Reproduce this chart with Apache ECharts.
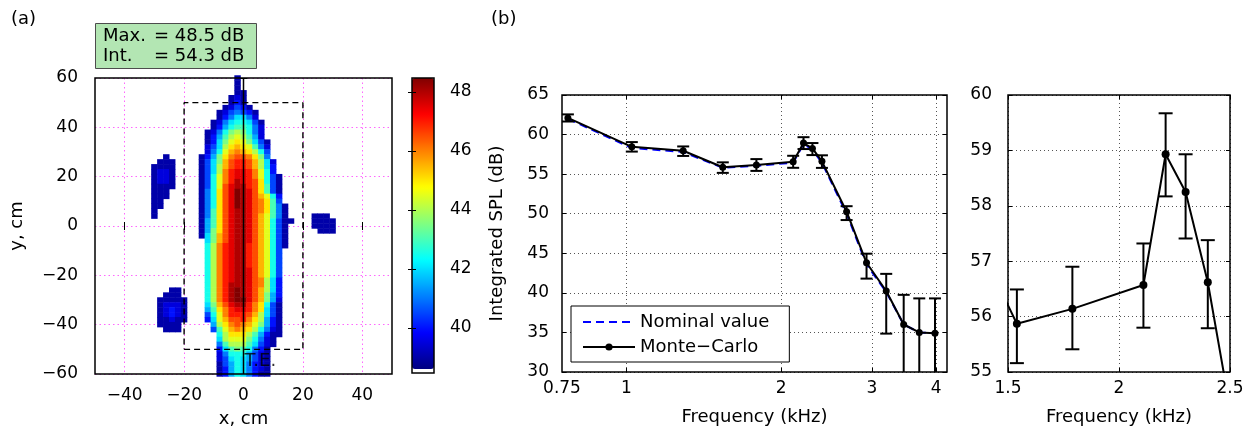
<!DOCTYPE html>
<html><head><meta charset="utf-8">
<script src="https://cdn.jsdelivr.net/npm/echarts@6/dist/echarts.min.js"></script>
<style>html,body{margin:0;padding:0;background:#fff}#c{width:1260px;height:440px}</style>
</head><body><div id="c"></div>
<script>
// ---------------- data ----------------
// panel (b): frequency sweep
const freqKHz    = [0.77, 1.025, 1.29, 1.54, 1.79, 2.11, 2.21, 2.30, 2.40, 2.68, 2.93, 3.20, 3.46, 3.71, 3.98];
const mcSPL      = [62.1, 58.45, 57.95, 55.87, 56.14, 56.57, 58.93, 58.25, 56.62, 50.25, 43.8, 40.23, 36.0, 35.0, 34.9];
const mcLow      = [61.65, 57.85, 57.3, 55.16, 55.41, 55.8, 58.17, 57.41, 55.79, 49.2, 41.8, 34.85, 29, 29, 29];
const mcHigh     = [62.55, 59.05, 58.5, 56.49, 56.9, 57.32, 59.67, 58.93, 57.38, 50.95, 44.95, 42.4, 39.75, 39.3, 39.3];
const nominalSPL = [62.0, 58.3, 57.8, 55.8, 56.05, 56.45, 58.8, 58.1, 56.45, 50.0, 43.6, 40.1, 36.0, 35.0, 34.9];
const mainXTicks = [0.75, 1, 2, 3, 4];
const mainXGrid  = [1, 2, 3, 4];
// panel (a): map ticks
const mapXTicks  = [-40, -20, 0, 20, 40];
const cbarTicks  = [40, 42, 44, 46, 48];
// panel (a): SPL map, 2 cm cells. Rows y = 60 ... -60 (step -2), columns x = -32 ... 32 (step 2).
// level char k -> 38.5 + 0.5*k dB, '.' = below threshold
const levelChars = '0123456789abcdefghijk';
const mapRows = [
 ".........|......1.........|........", // 60
 ".........|......1.........|........", // 58
 ".........|......1.........|........", // 56
 ".........|......11........|........", // 54
 ".........|.....121........|........", // 52
 ".........|.....131........|........", // 50
 ".........|....12431.......|........", // 48
 ".........|...1245431......|........", // 46
 ".........|...1357752......|........", // 44
 ".........|..125788741.....|........", // 42
 ".........|..136899852.....|........", // 40
 ".........|.1258aba852.....|........", // 38
 ".........|.1369bcb962.....|........", // 36
 ".........|.137acdca741....|........", // 34
 ".........|.247bdedc952....|........", // 32
 ".........|.258cefedb84....|........", // 30
 "...1.....|136adfggfda5....|........", // 28
 "..111....|147aeghhgeb72...|........", // 26
 ".1111....|147beghhgeb73...|........", // 24
 ".1221....|147bfhiihfc83...|........", // 22
 ".1221....|148cfhiihfc841..|........", // 20
 ".1221....|148cfhjihgd841..|........", // 18
 ".1111....|148cgijjhgd941..|........", // 16
 ".111.....|158dgikjigd941..|........", // 14
 ".111.....|158dgikjigec83..|........", // 12
 ".11......|158dgikjigfd94..|........", // 10
 ".11......|158dgikjigfd951.|........", // 8
 ".1.......|159dgijjigfd951.|........", // 6
 ".1.......|159dgijjigec951.|...111..", // 4
 ".........|169dgijjigec8411|...1111.", // 2
 ".........|169dgijjigec841.|...1111.", // 0
 ".........|16adgijjigec841.|....111.", // -2
 ".........|17aegijjigec841.|........", // -4
 ".........|.7aegijjigec841.|........", // -6
 ".........|.8bfhijjhgec841.|........", // -8
 ".........|.8bfhijjhgec84..|........", // -10
 ".........|.8bfhijjhgec84..|........", // -12
 ".........|.8bfhijjhgec84..|........", // -14
 ".........|.8bfhijjhgec84..|........", // -16
 ".........|.8bfhijjigec84..|........", // -18
 ".........|.8bfhijjigec84..|........", // -20
 ".........|.8bfhijjigfb73..|........", // -22
 ".........|.8bfhjjjigfb73..|........", // -24
 "....11...|.8bfhjkjigeb73..|........", // -26
 "...111...|.8bfhjkjigea63..|........", // -28
 "..11111..|.8bfhjkkigea62..|........", // -30
 "..12221..|.7aegijjhfd841..|........", // -32
 "..12321..|.69dfhiihfd741..|........", // -34
 "..12321..|.48cfhhhgeb741..|........", // -36
 "..11211..|.37cegghfdb631..|........", // -38
 "..1111...|..6bdfgfeca631..|........", // -40
 "...111...|..49cefedb8521..|........", // -42
 ".........|...8bdddb96311..|........", // -44
 ".........|...7bccca8521...|........", // -46
 ".........|...59bbb97421...|........", // -48
 ".........|...379a98531....|........", // -50
 ".........|...258886421....|........", // -52
 ".........|...247876421....|........", // -54
 ".........|...146875321....|........", // -56
 ".........|...136875321....|........", // -58
 ".........|...136875311....|........"  // -60
];
const mapRowTop = 60, mapColLeft = -32, mapCell = 2;
const teBox   = [[-20,-50],[20,-50],[20,50],[-20,50],[-20,-50]];
const teLine  = [[0,-60],[0,60]];
const teLabel = [0,-55];

// ---------------- build ----------------
const FONT = 'DejaVu Sans';
const T = (o) => Object.assign({fontFamily: FONT, fontSize: 17, color: '#000'}, o || {});
const N = {fontFamily: FONT, fontSize: 18, color: '#000', fontWeight: 'normal'};
const minus = v => (v < 0 ? '\u2212' + Math.abs(v) : String(v));

const heatX = [], heatY = [];
for (let x = -50; x <= 50; x += mapCell) heatX.push(String(x));
for (let y = -60; y <= 60; y += mapCell) heatY.push(String(y));
const heatData = [];
mapRows.forEach((row, k) => {
  const s = row.replace(/\|/g, '');
  const yv = mapRowTop - mapCell * k;
  for (let i = 0; i < s.length; i++) {
    const idx = levelChars.indexOf(s[i]);
    if (idx < 0) continue;
    const xv = mapColLeft + mapCell * i;
    heatData.push([(xv + 50) / mapCell, (yv + 60) / mapCell, 38.5 + 0.5 * idx]);
  }
});

const pts = freqKHz.map((f, i) => [f, mcSPL[i]]);
const nomPts = freqKHz.map((f, i) => [f, nominalSPL[i]]);
const errPts = freqKHz.map((f, i) => [f, mcLow[i], mcHigh[i]]);

function errorBar(capHalf) {
  return function (params, api) {
    const cs = params.coordSys;
    const pLo = api.coord([api.value(0), api.value(1)]);
    const pHi = api.coord([api.value(0), api.value(2)]);
    const x = pHi[0];
    if (x < cs.x - 0.5 || x > cs.x + cs.width + 0.5) return null;
    const top = cs.y, bot = cs.y + cs.height;
    const y1 = Math.max(top, pHi[1]), y2 = Math.min(bot, pLo[1]);
    const st = {stroke: '#000', lineWidth: 2};
    const ch = [{type: 'line', shape: {x1: x, y1: y1, x2: x, y2: y2}, style: st}];
    if (pHi[1] >= top) ch.push({type: 'line', shape: {x1: x - capHalf, y1: pHi[1], x2: x + capHalf, y2: pHi[1]}, style: st});
    if (pLo[1] <= bot) ch.push({type: 'line', shape: {x1: x - capHalf, y1: pLo[1], x2: x + capHalf, y2: pLo[1]}, style: st});
    return {type: 'group', children: ch};
  };
}

const tickOnly = (extra) => Object.assign({
  axisLine: {show: false}, axisLabel: {show: false}, splitLine: {show: false},
  axisTick: {show: true, inside: true, length: 4, lineStyle: {color: '#000'}}
}, extra);

const jet = ['#000080', '#0000ff', '#0080ff', '#00ffff', '#80ff80', '#ffff00', '#ff8000', '#ff0000', '#800000'];
const dotted = (c) => ({show: true, lineStyle: {color: c, width: 1, type: [1, 3]}});
const magenta = {show: true, lineStyle: {color: '#ff66ff', width: 1, type: [1.5, 3]}};

const option = {
  animation: false,
  backgroundColor: '#fff',
  title: [
    {text: '(a)', left: 6, top: 5, textStyle: N},
    {text: '(b)', left: 486, top: 5, textStyle: N},
    {text: '{l|Max.}{r|= 48.5 dB}\n{l|Int.}{r|= 54.3 dB}', left: 95, top: 22,
     backgroundColor: '#b3e6b3', borderColor: '#4d4d4d', borderWidth: 1, padding: [4, 12, 4, 8],
     textStyle: Object.assign({rich: {l: Object.assign({width: 51, lineHeight: 20}, N), r: Object.assign({lineHeight: 20}, N)}}, N)}
  ],
  grid: [
    {left: 95, top: 78, width: 297, height: 296, show: true, backgroundColor: 'transparent', borderColor: '#000', borderWidth: 1.5, z: 10},
    {left: 92.03, top: 75.53, width: 302.94, height: 300.93},
    {left: 412, top: 78, width: 22, height: 295, show: true, backgroundColor: 'transparent', borderColor: '#000', borderWidth: 1.5, z: 10},
    {left: 562, top: 95, width: 385, height: 277, show: true, backgroundColor: 'transparent', borderColor: '#000', borderWidth: 1.5, z: 10},
    {left: 1008, top: 95, width: 222, height: 277, show: true, backgroundColor: 'transparent', borderColor: '#000', borderWidth: 1.5, z: 10}
  ],
  xAxis: [
    {gridIndex: 0, type: 'value', min: -50, max: 50, position: 'bottom', axisLine: {show: false},
     axisTick: {show: true, inside: true, length: 4, customValues: mapXTicks, lineStyle: {color: '#000'}},
     axisLabel: T({customValues: mapXTicks, formatter: minus, margin: 13}),
     splitLine: magenta,
     name: 'x, cm', nameLocation: 'middle', nameGap: 36, nameTextStyle: N},
    tickOnly({gridIndex: 0, type: 'value', min: -50, max: 50, position: 'top', axisTick: {show: true, inside: true, length: 4, customValues: mapXTicks, lineStyle: {color: '#000'}}}),
    {gridIndex: 1, type: 'category', data: heatX, show: false},
    {gridIndex: 2, type: 'value', min: 0, max: 1, show: false},
    {gridIndex: 3, type: 'log', logBase: 10, min: 0.75, max: 4.2, position: 'bottom', axisLine: {show: false},
     axisTick: {show: true, inside: true, length: 4, customValues: mainXGrid, lineStyle: {color: '#000'}},
     axisLabel: T({customValues: mainXTicks, margin: 8}),
     splitLine: dotted('#555'),
     name: 'Frequency (kHz)', nameLocation: 'middle', nameGap: 36, nameTextStyle: N},
    tickOnly({gridIndex: 3, type: 'log', logBase: 10, min: 0.75, max: 4.2, position: 'top', axisTick: {show: true, inside: true, length: 4, customValues: mainXGrid, lineStyle: {color: '#000'}}}),
    {gridIndex: 4, type: 'value', min: 1.5, max: 2.5, interval: 0.5, position: 'bottom', axisLine: {show: false},
     axisTick: {show: true, inside: true, length: 4, lineStyle: {color: '#000'}},
     axisLabel: T({margin: 8}), splitLine: dotted('#555'),
     name: 'Frequency (kHz)', nameLocation: 'middle', nameGap: 36, nameTextStyle: N},
    tickOnly({gridIndex: 4, type: 'value', min: 1.5, max: 2.5, interval: 0.5, position: 'top'})
  ],
  yAxis: [
    {gridIndex: 0, type: 'value', min: -60, max: 60, interval: 20, position: 'left', axisLine: {show: false},
     axisTick: {show: true, inside: true, length: 4, lineStyle: {color: '#000'}},
     axisLabel: T({formatter: minus, margin: 17}),
     splitLine: magenta,
     name: 'y, cm', nameLocation: 'middle', nameGap: 69, nameTextStyle: N},
    tickOnly({gridIndex: 0, type: 'value', min: -60, max: 60, interval: 20, position: 'right'}),
    {gridIndex: 1, type: 'category', data: heatY, show: false},
    {gridIndex: 2, type: 'value', min: 38.47, max: 48.47, position: 'right', z: 11, axisLine: {show: false},
     axisTick: {show: true, inside: true, length: 4, customValues: cbarTicks, lineStyle: {color: '#000'}},
     axisLabel: T({customValues: cbarTicks, margin: 16}), splitLine: {show: false}},
    tickOnly({gridIndex: 2, type: 'value', min: 38.47, max: 48.47, position: 'left', z: 11,
     axisTick: {show: true, inside: true, length: 4, customValues: cbarTicks, lineStyle: {color: '#000'}}}),
    {gridIndex: 3, type: 'value', min: 30, max: 65, interval: 5, position: 'left', axisLine: {show: false},
     axisTick: {show: true, inside: true, length: 4, lineStyle: {color: '#000'}},
     axisLabel: T({margin: 13}), splitLine: dotted('#555'),
     name: 'Integrated SPL (dB)', nameLocation: 'middle', nameGap: 56, nameTextStyle: N},
    tickOnly({gridIndex: 3, type: 'value', min: 30, max: 65, interval: 5, position: 'right'}),
    {gridIndex: 4, type: 'value', min: 55, max: 60, interval: 1, position: 'left', axisLine: {show: false},
     axisTick: {show: true, inside: true, length: 4, lineStyle: {color: '#000'}},
     axisLabel: T({margin: 16}), splitLine: dotted('#555')},
    tickOnly({gridIndex: 4, type: 'value', min: 55, max: 60, interval: 1, position: 'right'})
  ],
  visualMap: {
    type: 'continuous', seriesIndex: 0, dimension: 2, min: 38.6, max: 48.47,
    calculable: false, hoverLink: false, orient: 'vertical', left: 412, top: 78, padding: 0,
    itemWidth: 22, itemHeight: 291, inRange: {color: jet}, outOfRange: {color: '#ffffff'}, z: 4
  },
  legend: {
    data: [{name: 'Nominal value', itemStyle: {opacity: 0}}, {name: 'Monte\u2212Carlo'}],
    orient: 'vertical', left: 571, top: 306,
    itemWidth: 52, itemHeight: 9, itemGap: 7, padding: [7, 20, 6, 11], selectedMode: false,
    backgroundColor: '#fff', borderColor: '#000', borderWidth: 1, textStyle: N, z: 20
  },
  series: [
    {type: 'heatmap', xAxisIndex: 2, yAxisIndex: 2, data: heatData, progressive: 0, emphasis: {disabled: true}, z: 2, silent: true},
    {type: 'line', xAxisIndex: 0, yAxisIndex: 0, data: teBox, symbol: 'none', silent: true, z: 6,
     lineStyle: {color: '#000', width: 1.4, type: [6, 4]}},
    {type: 'line', xAxisIndex: 0, yAxisIndex: 0, data: teLine, symbol: 'none', silent: true, z: 6,
     lineStyle: {color: '#000', width: 1.5}},
    {type: 'scatter', xAxisIndex: 0, yAxisIndex: 0, data: [teLabel], symbolSize: 0, silent: true, z: 7,
     label: Object.assign({show: true, position: 'right', distance: 1, formatter: 'T.E.'}, N)},
    {name: 'Nominal value', type: 'line', xAxisIndex: 4, yAxisIndex: 5, data: nomPts, symbol: 'none', z: 3,
     lineStyle: {color: '#0000ff', width: 2, type: [8, 5]}, itemStyle: {color: '#0000ff'}},
    {type: 'custom', xAxisIndex: 4, yAxisIndex: 5, data: errPts, renderItem: errorBar(6), encode: {x: 0, y: [1, 2]}, z: 4, silent: true},
    {name: 'Monte\u2212Carlo', type: 'line', xAxisIndex: 4, yAxisIndex: 5, data: pts, symbol: 'circle', symbolSize: 7, showSymbol: true, z: 5,
     lineStyle: {color: '#000', width: 2}, itemStyle: {color: '#000'}},
    {type: 'custom', xAxisIndex: 6, yAxisIndex: 7, data: errPts, renderItem: errorBar(7), encode: {x: 0, y: [1, 2]}, z: 4, silent: true},
    {name: 'Monte\u2212Carlo', type: 'line', xAxisIndex: 6, yAxisIndex: 7, data: pts, symbol: 'circle', symbolSize: 8, showSymbol: true, z: 5, clip: true,
     lineStyle: {color: '#000', width: 2}, itemStyle: {color: '#000'}}
  ]
};
const chart = echarts.init(document.getElementById('c'), null, {renderer: 'canvas'});
chart.setOption(option);
</script></body></html>
